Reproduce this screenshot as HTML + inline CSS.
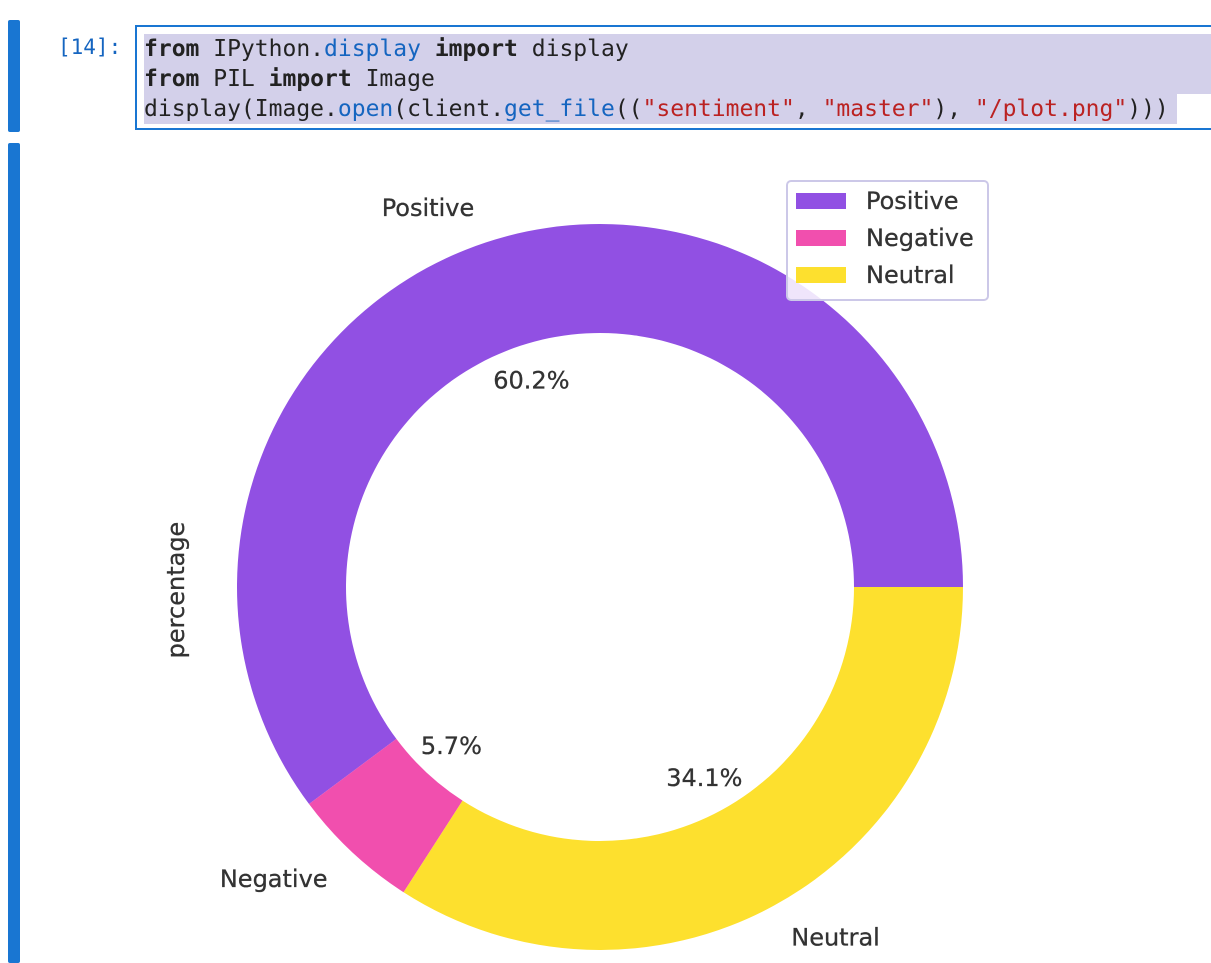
<!DOCTYPE html>
<html><head><meta charset="utf-8"><style>
body{margin:0;width:1211px;height:950px;overflow:hidden;background:#fff;position:relative;font-family:"DejaVu Sans",sans-serif}
.bar{position:absolute;left:8px;width:12px;background:#1976d2;border-radius:2px}
.prompt{position:absolute;left:58px;top:35px;font:21px "DejaVu Sans Mono",monospace;color:#1565c0}
.cell{position:absolute;left:135px;top:25px;width:1090px;height:105px;border:2px solid #1976d2;background:#fff;box-sizing:border-box}
.line{position:absolute;left:7px;height:30px;font:23px/30px "DejaVu Sans Mono",monospace;color:#222;background:#d3d0ea;white-space:pre}
.k{font-weight:bold}.b{color:#1565c0}.s{color:#b22}
svg text{stroke:#333;stroke-width:0.3}
</style></head><body>
<div class="bar" style="top:20px;height:112px"></div>
<div class="bar" style="top:143px;height:820px"></div>
<div class="prompt">[14]:</div>
<div class="cell">
<div class="line" style="top:7px;width:1070px"><span class="k">from</span> IPython.<span class="b">display</span> <span class="k">import</span> display</div>
<div class="line" style="top:37px;width:1070px"><span class="k">from</span> PIL <span class="k">import</span> Image</div>
<div class="line" style="top:67px;width:1033px">display(Image.<span class="b">open</span>(client.<span class="b">get_file</span>((<span class="s">"sentiment"</span>, <span class="s">"master"</span>), <span class="s">"/plot.png"</span>)))</div>
</div>
<svg id="chart" width="1211" height="950" style="position:absolute;left:0;top:0"></svg>
<script>
const categories=["Positive","Negative","Neutral"];
const values=[60.2,5.7,34.1];
const colors=["#9150e3","#f14fae","#fde02e"];
const svg=document.getElementById('chart');
const NS="http://www.w3.org/2000/svg";
const cx=600,cy=587,R=363,r=254;
const FS='24';
function pt(a,rad){return [cx+rad*Math.cos(a*Math.PI/180),cy-rad*Math.sin(a*Math.PI/180)];}
const total=values.reduce((a,b)=>a+b,0);
let start=0;
values.forEach((v,i)=>{
  const sweep=v/total*360,end=start+sweep,large=sweep>180?1:0;
  const [x1,y1]=pt(start,R),[x2,y2]=pt(end,R),[x3,y3]=pt(end,r),[x4,y4]=pt(start,r);
  const p=document.createElementNS(NS,'path');
  p.setAttribute('d',`M${x1},${y1}A${R},${R} 0 ${large} 0 ${x2},${y2}L${x3},${y3}A${r},${r} 0 ${large} 1 ${x4},${y4}Z`);
  p.setAttribute('fill',colors[i]);
  
  
  svg.appendChild(p);
  const mid=start+sweep/2;
  const [lx,ly]=pt(mid,R*1.1);
  const t=document.createElementNS(NS,'text');
  t.setAttribute('x',lx);t.setAttribute('y',ly+8);
  t.setAttribute('text-anchor',lx<cx?'end':'start');
  t.setAttribute('font-size',FS);t.setAttribute('fill','#333');
  t.textContent=categories[i];
  
  
  svg.appendChild(t);
  const [px,py]=pt(mid,R*0.6);
  const q=document.createElementNS(NS,'text');
  q.setAttribute('x',px);q.setAttribute('y',py+8);
  q.setAttribute('text-anchor','middle');
  q.setAttribute('font-size',FS);q.setAttribute('fill','#333');
  q.textContent=v.toFixed(1)+'%';
  
  
  svg.appendChild(q);
  start=end;
});
const yl=document.createElementNS(NS,'text');
yl.setAttribute('transform','translate(184,590) rotate(-90)');
yl.setAttribute('text-anchor','middle');yl.setAttribute('font-size',FS);yl.setAttribute('fill','#333');
yl.textContent='percentage';


svg.appendChild(yl);
const lg=document.createElementNS(NS,'rect');
lg.setAttribute('x',787);lg.setAttribute('y',181);lg.setAttribute('width',201);lg.setAttribute('height',119);lg.setAttribute('rx',4);
lg.setAttribute('fill','#fff');lg.setAttribute('fill-opacity','0.85');lg.setAttribute('stroke','#ccc8e8');lg.setAttribute('stroke-width','2');


svg.appendChild(lg);
categories.forEach((c,i)=>{
  const y=201+i*37;
  const pr=document.createElementNS(NS,'rect');
  pr.setAttribute('x',796);pr.setAttribute('y',y-8);pr.setAttribute('width',50);pr.setAttribute('height',16);pr.setAttribute('fill',colors[i]);
  
  
  svg.appendChild(pr);
  const t=document.createElementNS(NS,'text');
  t.setAttribute('x',866);t.setAttribute('y',y+8);t.setAttribute('font-size',FS);t.setAttribute('fill','#333');
  t.textContent=c;
  
  
  svg.appendChild(t);
});
</script>
</body></html>
